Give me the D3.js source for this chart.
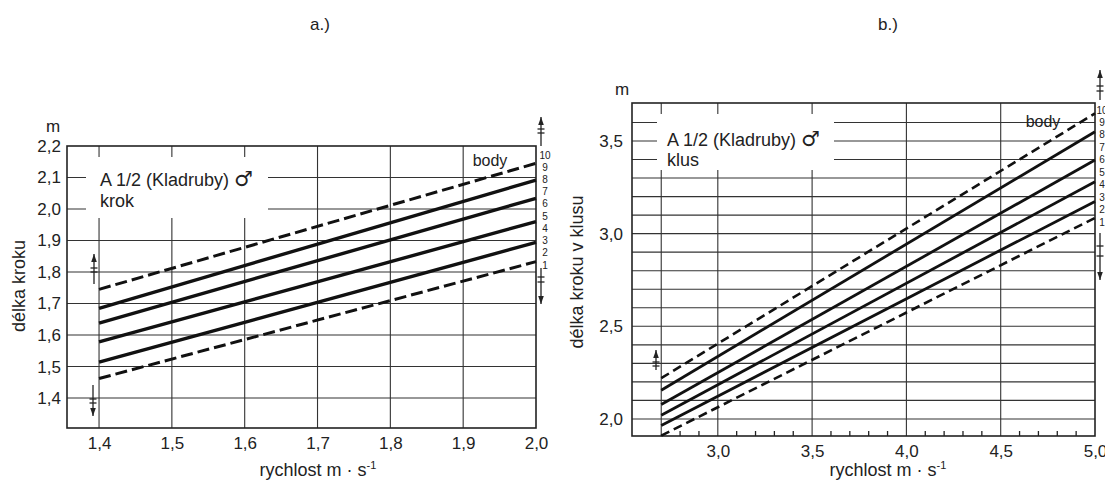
<!DOCTYPE html>
<html>
<head>
<meta charset="utf-8">
<script src="https://cdn.jsdelivr.net/npm/d3@7"></script>
<style>
  html, body { margin: 0; padding: 0; background: #fff; }
  svg { display: block; }
  text { font-family: "Liberation Sans", Arial, Helvetica, sans-serif; fill: #222; }
</style>
</head>
<body>
<svg id="chart" width="1105" height="484"></svg>
<script>
// ---- a.) krok (walk): step length [m] against speed [m/s] ----
const walkSpeeds      = [1.4, 2.0];
const walkUpperLimit  = [1.745, 2.145];   // dashed
const walkLine1       = [1.685, 2.092];
const walkLine2       = [1.638, 2.034];
const walkLine3       = [1.578, 1.960];
const walkLine4       = [1.514, 1.894];
const walkLowerLimit  = [1.462, 1.833];   // dashed
const walkXTicks      = [1.4, 1.5, 1.6, 1.7, 1.8, 1.9, 2.0];
const walkYTicks      = [1.4, 1.5, 1.6, 1.7, 1.8, 1.9, 2.0, 2.1, 2.2];
const walkXGrid       = [1.4, 1.5, 1.6, 1.7, 1.8, 1.9];
const walkYGrid       = [1.4, 1.5, 1.6, 1.7, 1.8, 1.9, 2.0, 2.1];

// ---- b.) klus (trot): step length [m] against speed [m/s] ----
const trotSpeeds      = [2.7, 5.0];
const trotUpperLimit  = [2.22, 3.649];    // dashed
const trotLine1       = [2.155, 3.550];
const trotLine2       = [2.078, 3.397];
const trotLine3       = [2.020, 3.280];
const trotLine4       = [1.965, 3.174];
const trotLowerLimit  = [1.910, 3.085];   // dashed
const trotXTicks      = [3.0, 3.5, 4.0, 4.5, 5.0];
const trotXGrid       = [2.7, 3.0, 3.5, 4.0, 4.5];
const trotXMinor      = [2.8, 2.9, 3.1, 3.2, 3.3, 3.4, 3.6, 3.7, 3.8, 3.9, 4.1, 4.2, 4.3, 4.4, 4.6, 4.7, 4.8, 4.9];
const trotYTicks      = [2.0, 2.5, 3.0, 3.5];
const trotYGrid       = [2.0, 2.1, 2.2, 2.3, 2.4, 2.5, 2.6, 2.7, 2.8, 2.9, 3.0, 3.1, 3.2, 3.3, 3.4, 3.5, 3.6];

// score scale printed beside each panel
const pointLabels = ["10", "9", "8", "7", "6", "5", "4", "3", "2", "1"];

const cz = d3.formatLocale({ decimal: ",", thousands: " ", grouping: [3], currency: ["", ""] });
const fmt1 = cz.format(".1f");

const svg = d3.select("#chart");

function drawPanel(p) {
  const x = d3.scaleLinear().domain(p.xDomain).range(p.xRange);
  const y = d3.scaleLinear().domain(p.yDomain).range(p.yRange);
  const g = svg.append("g");
  const [x0, x1] = p.xRange, [y0, y1] = p.yRange; // y0 bottom, y1 top

  // grid
  g.append("g").selectAll("line").data(p.yGrid).join("line")
    .attr("x1", x0).attr("x2", x1)
    .attr("y1", d => y(d)).attr("y2", d => y(d))
    .attr("stroke", "#333").attr("stroke-width", 1.1);
  g.append("g").selectAll("line").data(p.xGrid).join("line")
    .attr("x1", d => x(d)).attr("x2", d => x(d))
    .attr("y1", y0).attr("y2", y1)
    .attr("stroke", "#333").attr("stroke-width", 1.1);

  // minor ticks on the speed axis
  if (p.xMinor) {
    g.append("g").selectAll("line").data(p.xMinor).join("line")
      .attr("x1", d => x(d)).attr("x2", d => x(d))
      .attr("y1", y0).attr("y2", y0 - 5)
      .attr("stroke", "#222").attr("stroke-width", 1.3);
  }

  // caption block
  g.append("rect")
    .attr("x", p.legend.x0).attr("y", p.legend.y0)
    .attr("width", p.legend.x1 - p.legend.x0).attr("height", p.legend.y1 - p.legend.y0)
    .attr("fill", "#fff");
  const cap = g.append("text").attr("x", p.legend.tx).attr("font-size", 18);
  const l1 = cap.append("tspan").attr("x", p.legend.tx).attr("y", p.legend.ty1);
  l1.append("tspan").text("A 1/2 (Kladruby) ");
  l1.append("tspan").attr("font-family", '"DejaVu Sans", sans-serif').attr("font-size", 21).text("♂");
  cap.append("tspan").attr("x", p.legend.tx).attr("y", p.legend.ty2).text(p.gait);

  // frame
  g.append("rect").attr("x", x0).attr("y", y1)
    .attr("width", x1 - x0).attr("height", y0 - y1)
    .attr("fill", "none").attr("stroke", "#222").attr("stroke-width", 1.6);

  // axes (labels only)
  const xAxis = d3.axisBottom(x).tickValues(p.xTicks).tickFormat(fmt1).tickSize(0).tickPadding(p.xPad);
  g.append("g").attr("transform", `translate(0,${y0})`).call(xAxis)
    .call(s => s.select(".domain").remove())
    .selectAll("text").attr("font-size", 17).attr("fill", "#222")
    .attr("font-family", '"Liberation Sans", Arial, sans-serif');
  const yAxis = d3.axisLeft(y).tickValues(p.yTicks).tickFormat(fmt1).tickSize(0).tickPadding(p.yPad);
  g.append("g").attr("transform", `translate(${x0},0)`).call(yAxis)
    .call(s => s.select(".domain").remove())
    .selectAll("text").attr("font-size", 17).attr("fill", "#222")
    .attr("font-family", '"Liberation Sans", Arial, sans-serif');

  // curves
  const line = d3.line().x((d, i) => x(p.speeds[i])).y(d => y(d));
  p.series.forEach(s => {
    g.append("path").datum(s.values)
      .attr("d", line)
      .attr("fill", "none")
      .attr("stroke", "#111")
      .attr("stroke-width", s.dashed ? p.dashWidth : p.solidWidth)
      .attr("stroke-dasharray", s.dashed ? p.dash : null)
      .attr("stroke-linecap", "butt");
  });

  // unit + axis titles
  g.append("text").attr("x", p.unit[0]).attr("y", p.unit[1]).attr("font-size", 17)
    .attr("text-anchor", "middle").text("m");
  g.append("text")
    .attr("transform", `translate(${p.yTitle[0]},${p.yTitle[1]}) rotate(-90)`)
    .attr("text-anchor", "middle").attr("dominant-baseline", "central")
    .attr("font-size", 18).text(p.yTitleText);
  const xt = g.append("text").attr("x", p.xTitle[0]).attr("y", p.xTitle[1])
    .attr("text-anchor", "middle").attr("font-size", 18);
  xt.append("tspan").text("rychlost m · s");
  xt.append("tspan").attr("font-size", 11).attr("dy", -7).text("-1");

  // "body" marker and score scale
  g.append("text").attr("x", p.body[0]).attr("y", p.body[1])
    .attr("text-anchor", "middle").attr("font-size", 16).text("body");
  const py = d3.scalePoint().domain(pointLabels).range(p.pointRange);
  g.append("g").selectAll("text").data(pointLabels).join("text")
    .attr("x", p.pointX).attr("y", d => py(d))
    .attr("text-anchor", "middle").attr("dominant-baseline", "central")
    .attr("font-size", 10).attr("fill", "#444").text(d => d);

  // open-range arrows
  p.arrows.forEach(a => drawArrow(g, a));
}

function drawArrow(g, a) {
  // a: {x, from, to, bars:[...]} ; arrow head sits at "to"
  g.append("line").attr("x1", a.x).attr("x2", a.x).attr("y1", a.from).attr("y2", a.to)
    .attr("stroke", "#222").attr("stroke-width", 1.3);
  a.bars.forEach(b => g.append("line")
    .attr("x1", a.x - 3.5).attr("x2", a.x + 3.5).attr("y1", b).attr("y2", b)
    .attr("stroke", "#222").attr("stroke-width", 1.3));
  const dir = a.to < a.from ? 1 : -1;
  g.append("path")
    .attr("d", `M${a.x},${a.to} L${a.x - 2.8},${a.to + dir * 8} L${a.x + 2.8},${a.to + dir * 8} Z`)
    .attr("fill", "#222");
}

drawPanel({
  gait: "krok",
  xDomain: [1.356, 2.0], xRange: [67, 536],
  yDomain: [1.305, 2.2], yRange: [428, 146],
  xTicks: walkXTicks, yTicks: walkYTicks, xGrid: walkXGrid, yGrid: walkYGrid,
  xPad: 9, yPad: 6,
  speeds: walkSpeeds,
  series: [
    { values: walkUpperLimit, dashed: true },
    { values: walkLine1 }, { values: walkLine2 }, { values: walkLine3 }, { values: walkLine4 },
    { values: walkLowerLimit, dashed: true }
  ],
  solidWidth: 3.4, dashWidth: 3.0, dash: "12,5",
  legend: { x0: 86, x1: 268, y0: 157, y1: 218, tx: 100, ty1: 186, ty2: 207 },
  unit: [53, 132], yTitle: [19, 286], yTitleText: "délka kroku", xTitle: [318, 476],
  body: [490, 166], pointX: 545, pointRange: [155, 265],
  arrows: [
    { x: 94, from: 284, to: 254, bars: [268, 272] },
    { x: 93, from: 385, to: 416, bars: [399, 403] },
    { x: 541, from: 146, to: 117, bars: [129, 133] },
    { x: 541, from: 268, to: 304, bars: [277, 282] }
  ]
});

drawPanel({
  gait: "klus",
  xDomain: [2.545, 5.0], xRange: [632, 1095],
  yDomain: [1.908, 3.705], yRange: [436, 103],
  xTicks: trotXTicks, yTicks: trotYTicks, xGrid: trotXGrid, yGrid: trotYGrid, xMinor: trotXMinor,
  xPad: 9, yPad: 9,
  speeds: trotSpeeds,
  series: [
    { values: trotUpperLimit, dashed: true },
    { values: trotLine1 }, { values: trotLine2 }, { values: trotLine3 }, { values: trotLine4 },
    { values: trotLowerLimit, dashed: true }
  ],
  solidWidth: 2.8, dashWidth: 2.6, dash: "9,5",
  legend: { x0: 657, x1: 834, y0: 114, y1: 170, tx: 667, ty1: 146, ty2: 166 },
  unit: [622, 95], yTitle: [577, 272], yTitleText: "délka kroku v klusu", xTitle: [888, 476],
  body: [1043, 127], pointX: 1102, pointRange: [110, 222],
  arrows: [
    { x: 656, from: 370, to: 350, bars: [362, 366] },
    { x: 1100, from: 100, to: 70, bars: [86, 91] },
    { x: 1100, from: 233, to: 280, bars: [246, 256] }
  ]
});

// panel captions
svg.append("text").attr("x", 320).attr("y", 30).attr("text-anchor", "middle")
  .attr("font-family", '"Liberation Serif", "Times New Roman", serif').attr("font-size", 17)
  .attr("fill", "#000").text("a.)");
svg.append("text").attr("x", 888).attr("y", 30).attr("text-anchor", "middle")
  .attr("font-family", '"Liberation Serif", "Times New Roman", serif').attr("font-size", 17)
  .attr("fill", "#000").text("b.)");
</script>
</body>
</html>
